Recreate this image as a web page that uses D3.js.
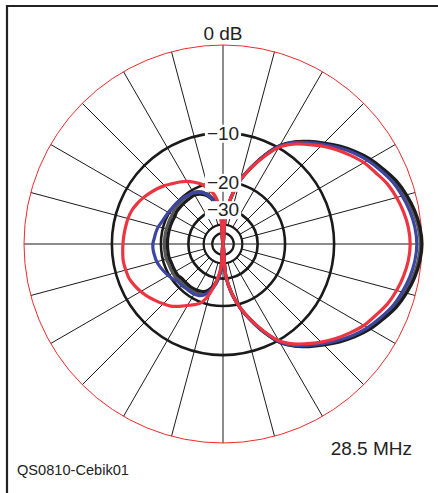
<!DOCTYPE html>
<html>
<head>
<meta charset="utf-8">
<script src="https://cdn.jsdelivr.net/npm/d3@7"></script>
<style>
  body { margin: 0; background: #fff; }
  svg { display: block; }
  text { font-family: "Liberation Sans", Arial, sans-serif; fill: #222; }
</style>
</head>
<body>
<svg id="chart" width="438" height="493"></svg>
<script>
// azimuth angles (deg, clockwise from top)
const angles = [0, 5, 10, 15, 20, 25, 30, 35, 40, 45, 50, 55, 60, 65, 70, 75, 80, 85,
  90, 95, 100, 105, 110, 115, 120, 125, 130, 135, 140, 145, 150, 155, 160, 165, 170, 175,
  180, 185, 190, 195, 200, 205, 210, 215, 220, 225, 230, 235, 240, 245, 250, 255, 260, 265,
  270, 275, 280, 285, 290, 295, 300, 305, 310, 315, 320, 325, 330, 335, 340, 345, 350, 355];

// pattern values in dB, one per angle
const blackDb = [-99, -33.7, -24.4, -18.9, -15.4, -12.2, -9.6, -8.0, -6.8, -5.7, -4.6, -3.6, -2.7, -2.0, -1.3, -0.8, -0.4, -0.12,
  0, -0.12, -0.4, -0.8, -1.3, -2.0, -2.7, -3.6, -4.6, -5.7, -6.8, -8.0, -9.6, -12.2, -15.4, -18.9, -23.6, -31.4,
  -99, -34.5, -28.4, -25.3, -23.6, -23.0, -22.7, -22.5, -22.5, -22.5, -22.5, -22.1, -22.1, -22.1, -22.1, -21.9, -21.9, -21.9,
  -21.9, -21.9, -21.9, -21.9, -21.9, -21.9, -21.9, -21.6, -21.6, -21.6, -21.6, -21.6, -21.6, -22.1, -23.0, -24.6, -26.8, -30.2];

const grayDb = [-99, -33.8, -24.5, -19.05, -15.55, -12.35, -9.75, -8.15, -6.95, -5.85, -4.75, -3.75, -2.85, -2.15, -1.45, -0.95, -0.55, -0.27,
  -0.15, -0.27, -0.55, -0.95, -1.45, -2.15, -2.85, -3.75, -4.75, -5.85, -6.95, -8.15, -9.75, -12.35, -15.55, -19.05, -23.7, -31.5,
  -99, -33.7, -27.5, -24.4, -22.7, -22.1, -21.8, -21.6, -21.6, -21.6, -21.6, -21.2, -21.2, -21.2, -21.2, -21.0, -21.0, -21.0,
  -21.0, -21.0, -21.0, -21.0, -21.0, -21.0, -21.0, -20.7, -20.7, -20.7, -20.7, -20.7, -20.7, -21.2, -22.1, -23.7, -25.9, -29.3];

const blueDb = [-99, -33.7, -24.4, -18.95, -15.45, -12.3, -9.7, -8.15, -7.0, -5.9, -4.85, -3.85, -3.0, -2.3, -1.65, -1.2, -0.82, -0.56,
  -0.45, -0.56, -0.82, -1.2, -1.65, -2.3, -3.0, -3.85, -4.85, -5.9, -7.0, -8.15, -9.7, -12.3, -15.45, -18.95, -23.6, -31.4,
  -99, -33.7, -27.5, -24.4, -22.4, -21.5, -21.2, -21.2, -21.2, -21.0, -20.9, -20.3, -19.7, -19.2, -18.7, -18.3, -18.1, -17.9,
  -17.9, -18.2, -18.4, -18.7, -19.2, -19.5, -19.7, -19.9, -20.0, -20.2, -20.3, -20.6, -20.9, -21.5, -22.4, -24.4, -26.7, -30.3];

const redDb = [-99, -33.7, -24.4, -19.0, -15.6, -12.5, -9.9, -8.4, -7.3, -6.2, -5.2, -4.3, -3.45, -2.85, -2.2, -1.75, -1.4, -1.15,
  -1.05, -1.15, -1.4, -1.75, -2.2, -2.85, -3.45, -4.3, -5.2, -6.2, -7.3, -8.4, -9.9, -12.5, -15.6, -19.0, -23.7, -31.4,
  -99, -36.3, -28.4, -23.2, -20.0, -18.7, -17.7, -16.5, -15.4, -14.7, -14.0, -13.3, -12.7, -12.2, -11.8, -11.7, -11.6, -11.7,
  -11.8, -11.9, -12.0, -12.1, -12.3, -12.7, -13.2, -13.8, -14.4, -15.1, -15.9, -16.6, -17.4, -18.4, -19.5, -21.5, -23.7, -29.8];

const ringDb = [0, -10, -20, -30, -40, -50];
const ringLabels = ["−10", "−20", "−30"];
const spokeAngles = [0, 15, 30, 45, 60, 75, 90, 105, 120, 135, 150, 165,
  180, 195, 210, 225, 240, 255, 270, 285, 300, 315, 330, 345];

const cx = 223, cy = 244, R = 199;
const svg = d3.select('#chart');

// frame (top and left edges)
svg.append('path')
  .attr('d', 'M7,493 L7,6 L438,6')
  .attr('fill', 'none')
  .attr('stroke', '#222')
  .attr('stroke-width', 2.2);

const g = svg.append('g').attr('transform', `translate(${cx},${cy})`);

// ARRL log-periodic scale: each 2 dB = 0.89 of radius
const rScale = d3.scaleLinear().domain([0, 1]).range([0, R]);
const r = db => rScale(Math.pow(0.89, -db / 2));
const rad = a => a * Math.PI / 180;

// spokes: the diagonal ones stop at the -40 ring
g.selectAll('.spoke')
  .data(spokeAngles)
  .enter()
  .append('line')
  .attr('class', 'spoke')
  .attr('x1', d => (d % 90 === 0 ? 0 : r(-40)) * Math.sin(rad(d)))
  .attr('y1', d => -(d % 90 === 0 ? 0 : r(-40)) * Math.cos(rad(d)))
  .attr('x2', d => R * Math.sin(rad(d)))
  .attr('y2', d => -R * Math.cos(rad(d)))
  .attr('stroke', '#1a1a1a')
  .attr('stroke-width', 1);

// rings
g.selectAll('.ring')
  .data(ringDb)
  .enter()
  .append('circle')
  .attr('class', 'ring')
  .attr('r', d => r(d))
  .attr('fill', 'none')
  .attr('stroke', d => d === 0 ? '#ee2a2a' : '#1a1a1a')
  .attr('stroke-width', d => d === 0 ? 1 : (d >= -30 ? 2.6 : 2.2));

// pattern curves
const line = d3.lineRadial()
  .angle((d, i) => rad(angles[i]))
  .radius(d => r(d))
  .curve(d3.curveCatmullRomClosed.alpha(0.5));

const series = [
  {vals: grayDb, color: '#585858'},
  {vals: blackDb, color: '#1c1c1c'},
  {vals: blueDb, color: '#3c46a0'},
  {vals: redDb, color: '#ec3540'}
];

g.selectAll('.pattern')
  .data(series)
  .enter()
  .append('path')
  .attr('class', 'pattern')
  .attr('d', d => line(d.vals))
  .attr('fill', 'none')
  .attr('stroke', d => d.color)
  .attr('stroke-width', 3.2)
  .attr('stroke-linejoin', 'round');

// ring labels with white boxes
ringLabels.forEach((lab, i) => {
  const yy = -r(ringDb[i + 1]);
  const lg = g.append('g');
  const bg = lg.append('rect').attr('fill', '#fff');
  const t = lg.append('text')
    .attr('x', 0)
    .attr('y', yy)
    .attr('dy', '0.36em')
    .attr('text-anchor', 'middle')
    .style('font-size', '19px')
    .text(lab);
  const bb = t.node().getBBox();
  bg.attr('x', bb.x - 2).attr('y', bb.y + 2)
    .attr('width', bb.width + 4).attr('height', bb.height - 3);
});

svg.append('text')
  .attr('x', cx)
  .attr('y', 40)
  .attr('text-anchor', 'middle')
  .style('font-size', '19px')
  .text('0 dB');

svg.append('text')
  .attr('x', 412)
  .attr('y', 455)
  .attr('text-anchor', 'end')
  .style('font-size', '19px')
  .text('28.5 MHz');

svg.append('text')
  .attr('x', 17)
  .attr('y', 475)
  .style('font-size', '14.6px')
  .text('QS0810-Cebik01');
</script>
</body>
</html>
